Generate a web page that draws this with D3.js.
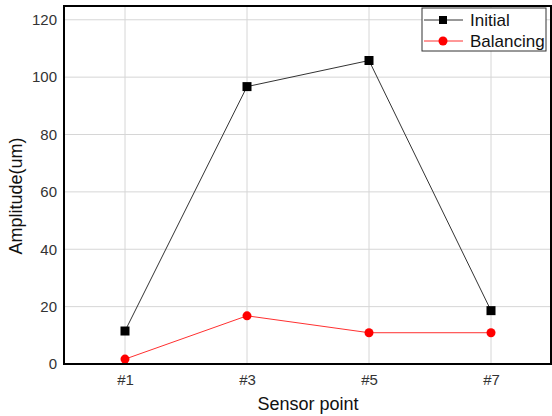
<!DOCTYPE html>
<html>
<head>
<meta charset="utf-8">
<script src="https://cdn.jsdelivr.net/npm/d3@7"></script>
<style>
  body { margin: 0; background: #fff; }
  text { font-family: "Liberation Sans", Arial, sans-serif; }
</style>
</head>
<body>
<svg id="chart" width="552" height="416"></svg>
<script>
// data
const sensors = ["#1", "#3", "#5", "#7"];
const initial = [11.5, 96.7, 105.8, 18.6];
const balancing = [1.7, 16.8, 10.9, 10.9];
const yTicks = [0, 20, 40, 60, 80, 100, 120];

const svg = d3.select("#chart");
const margin = { top: 6, right: 0, bottom: 52, left: 64 };
const width = 552 - margin.left - margin.right;
const height = 416 - margin.top - margin.bottom;

const x = d3.scalePoint().domain(sensors).range([0, width]).padding(0.5);
const y = d3.scaleLinear().domain([0, 124.8]).range([height, 0]);

const g = svg.append("g")
  .attr("transform", `translate(${margin.left},${margin.top})`);

// grid
g.append("g")
  .selectAll("line")
  .data(yTicks)
  .enter().append("line")
  .attr("x1", 0).attr("x2", width)
  .attr("y1", d => y(d)).attr("y2", d => y(d))
  .attr("stroke", "#d6d6d6");

g.append("g")
  .selectAll("line")
  .data(sensors)
  .enter().append("line")
  .attr("x1", d => x(d)).attr("x2", d => x(d))
  .attr("y1", 0).attr("y2", height)
  .attr("stroke", "#d6d6d6");

// axes (labels only)
const yAxis = g.append("g")
  .call(d3.axisLeft(y).tickValues(yTicks).tickSize(0).tickPadding(7));
yAxis.select(".domain").remove();
yAxis.selectAll("text")
  .attr("font-size", 15)
  .attr("fill", "#333");

const xAxis = g.append("g")
  .attr("transform", `translate(0,${height})`)
  .call(d3.axisBottom(x).tickSize(0).tickPadding(10));
xAxis.select(".domain").remove();
xAxis.selectAll("text")
  .attr("font-size", 15)
  .attr("fill", "#333");

// series
const series = [
  { name: "Initial", values: initial, color: "#000", shape: "square", line: "#333" },
  { name: "Balancing", values: balancing, color: "#ff0000", shape: "circle", line: "#ff3030" }
];

const line = d3.line()
  .x((d, i) => x(sensors[i]))
  .y(d => y(d));

series.forEach(function (s) {
  g.append("path")
    .datum(s.values)
    .attr("fill", "none")
    .attr("stroke", s.line)
    .attr("stroke-width", 1)
    .attr("d", line);

  if (s.shape === "square") {
    g.selectAll(".sq")
      .data(s.values)
      .enter().append("rect")
      .attr("x", (d, i) => x(sensors[i]) - 4.5)
      .attr("y", d => y(d) - 4.5)
      .attr("width", 9)
      .attr("height", 9)
      .attr("fill", s.color);
  } else {
    g.selectAll(".ci")
      .data(s.values)
      .enter().append("circle")
      .attr("cx", (d, i) => x(sensors[i]))
      .attr("cy", d => y(d))
      .attr("r", 4.5)
      .attr("fill", s.color);
  }
});

// frame
g.append("rect")
  .attr("x", 0).attr("y", 0)
  .attr("width", width - 1).attr("height", height)
  .attr("fill", "none")
  .attr("stroke", "#000")
  .attr("stroke-width", 2);

// legend
const lg = svg.append("g").attr("transform", "translate(422,8)");
lg.append("rect")
  .attr("width", 124).attr("height", 43)
  .attr("fill", "#fff")
  .attr("stroke", "#333")
  .attr("stroke-width", 1);
series.forEach(function (s, i) {
  const cy = 12 + i * 21;
  lg.append("line")
    .attr("x1", 2).attr("x2", 41)
    .attr("y1", cy).attr("y2", cy)
    .attr("stroke", s.line);
  if (s.shape === "square") {
    lg.append("rect").attr("x", 17).attr("y", cy - 4).attr("width", 8).attr("height", 8).attr("fill", s.color);
  } else {
    lg.append("circle").attr("cx", 21).attr("cy", cy).attr("r", 4.5).attr("fill", s.color);
  }
  lg.append("text")
    .attr("x", 48).attr("y", cy + 6)
    .attr("font-size", 17)
    .attr("fill", "#111")
    .text(s.name);
});

// axis titles
svg.append("text")
  .attr("x", margin.left + width / 2)
  .attr("y", 410)
  .attr("text-anchor", "middle")
  .attr("font-size", 18)
  .attr("fill", "#111")
  .text("Sensor point");

svg.append("text")
  .attr("transform", "translate(22,196) rotate(-90)")
  .attr("text-anchor", "middle")
  .attr("font-size", 18)
  .attr("fill", "#111")
  .text("Amplitude(um)");
</script>
</body>
</html>
